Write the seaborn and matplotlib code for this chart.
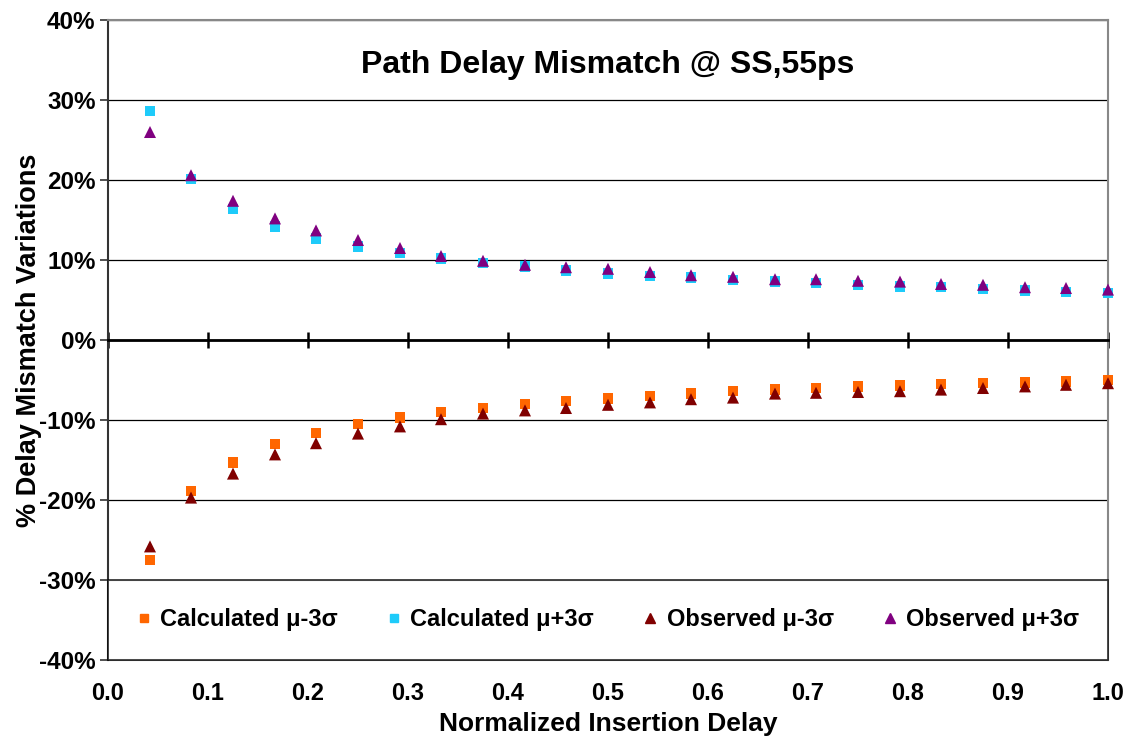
import numpy as np
import pandas as pd
import matplotlib
matplotlib.use("Agg")
import matplotlib.pyplot as plt
from matplotlib.lines import Line2D
import seaborn as sns

# -----------------------------------------------------
# Data (values in %)
# -----------------------------------------------------
norm_delay = [0.042, 0.083, 0.125, 0.167, 0.208, 0.250, 0.292, 0.333,
              0.375, 0.417, 0.458, 0.500, 0.542, 0.583, 0.625, 0.667,
              0.708, 0.750, 0.792, 0.833, 0.875, 0.917, 0.958, 1.000]

calc_minus = [-27.5, -18.9, -15.3, -13.0, -11.6, -10.5, -9.7, -9.0,
              -8.5, -8.0, -7.6, -7.3, -7.0, -6.7, -6.4, -6.2,
              -6.0, -5.8, -5.7, -5.5, -5.4, -5.3, -5.2, -5.0]
calc_plus = [28.6, 20.1, 16.4, 14.2, 12.7, 11.7, 10.9, 10.2,
             9.6, 9.2, 8.7, 8.3, 8.0, 7.8, 7.5, 7.3,
             7.1, 6.9, 6.7, 6.6, 6.4, 6.2, 6.0, 5.9]
obs_minus = [-25.8, -19.7, -16.7, -14.3, -12.9, -11.7, -10.8, -9.9,
             -9.2, -8.8, -8.5, -8.1, -7.8, -7.4, -7.2, -6.7,
             -6.6, -6.5, -6.4, -6.2, -6.0, -5.8, -5.6, -5.4]
obs_plus = [26.0, 20.6, 17.4, 15.2, 13.7, 12.5, 11.5, 10.5,
            9.9, 9.4, 9.1, 8.9, 8.5, 8.1, 7.9, 7.6,
            7.6, 7.4, 7.3, 7.0, 6.9, 6.6, 6.5, 6.3]

series_names = ["Calculated μ-3σ", "Calculated μ+3σ",
                "Observed μ-3σ", "Observed μ+3σ"]
series_colors = ["#FF6600", "#1ECBFA", "#800000", "#800080"]
series_markers = ["s", "s", "^", "^"]

x_ticks = [0.0, 0.1, 0.2, 0.3, 0.4, 0.5, 0.6, 0.7, 0.8, 0.9, 1.0]
y_ticks = [-40, -30, -20, -10, 0, 10, 20, 30, 40]

# -----------------------------------------------------
# Build long table
# -----------------------------------------------------
frames = []
for name, vals in zip(series_names, [calc_minus, calc_plus, obs_minus, obs_plus]):
    frames.append(pd.DataFrame({"x": norm_delay, "y": vals, "series": name}))
df = pd.concat(frames, ignore_index=True)
df["kind"] = df["series"].str.split().str[0]

palette = dict(zip(series_names, series_colors))
markers = dict(zip(series_names, series_markers))

# -----------------------------------------------------
# Plot
# -----------------------------------------------------
sns.set_style("white")
plt.rcParams["font.family"] = ["Liberation Sans", "DejaVu Sans"]
plt.rcParams["font.weight"] = "bold"
plt.rcParams["axes.labelweight"] = "bold"
plt.rcParams["axes.unicode_minus"] = False
for key in ["text.color", "axes.labelcolor", "xtick.color", "ytick.color"]:
    plt.rcParams[key] = "black"

fig = plt.figure(figsize=(11.36, 7.4), dpi=100)
ax = fig.add_axes([108 / 1136, 80 / 740, 1000 / 1136, 640 / 740])

for kind, size in [("Calculated", 55), ("Observed", 75)]:
    sub = df[df["kind"] == kind]
    sns.scatterplot(data=sub, x="x", y="y", hue="series", style="series",
                    palette=palette, markers=markers, s=size,
                    edgecolor="none", linewidth=0, legend=False,
                    clip_on=False, zorder=3, ax=ax)

ax.set_xlim(0, 1.0)
ax.set_ylim(-40, 40)
ax.set_yticks(y_ticks)
ax.yaxis.set_major_formatter("{x:.0f}%")
ax.set_xticks(x_ticks)
ax.yaxis.grid(True, color="black", linewidth=0.9)
ax.set_axisbelow(True)

# x axis line crosses at zero
ax.spines["bottom"].set_position(("data", 0))
ax.spines["bottom"].set_linewidth(2)
ax.spines["bottom"].set_color("black")
ax.tick_params(axis="x", which="major", bottom=True, direction="inout",
               length=11, width=1.8, labelbottom=False, color="black")
ax.spines["left"].set_color("#333333")
ax.spines["left"].set_linewidth(1.5)
ax.tick_params(axis="y", which="major", left=True, direction="out",
               length=6, width=1.2, labelsize=17.5, pad=3, color="#333333")
for side in ["top", "right"]:
    ax.spines[side].set_color("#888888")
    ax.spines[side].set_linewidth(1.5)

# tick labels at the bottom of the plot area
sec = ax.secondary_xaxis("bottom")
sec.set_xticks(x_ticks)
sec.xaxis.set_major_formatter("{x:.1f}")
sec.tick_params(length=0, labelsize=17, pad=16)
sec.spines["bottom"].set_color("#888888")
sec.spines["bottom"].set_linewidth(1.5)
sec.set_xlabel("Normalized Insertion Delay", fontsize=19, labelpad=5)

ax.set_xlabel("")
ax.set_ylabel("% Delay Mismatch Variations", fontsize=19.5)
ax.yaxis.set_label_coords(-0.066, 0.5)

ax.text(0.5, 0.93, "Path Delay Mismatch @ SS,55ps", transform=ax.transAxes,
        ha="center", va="center", fontsize=23, fontweight="bold")

handles = [Line2D([], [], linestyle="none", marker=m, color=c,
                  markersize=6 if m == "s" else 7)
           for m, c in zip(series_markers, series_colors)]
leg = ax.legend(handles, series_names, loc="lower left",
                bbox_to_anchor=(0, 0, 1, 0.125), mode="expand", ncol=4,
                fontsize=17, frameon=True, fancybox=False,
                borderaxespad=0, borderpad=1.21, handlelength=0.6,
                handletextpad=0.4, columnspacing=2.4)
leg.get_frame().set_edgecolor("black")
leg.get_frame().set_linewidth(1.2)
leg.set_zorder(5)

fig.savefig("out.png", dpi=100, facecolor="white")
